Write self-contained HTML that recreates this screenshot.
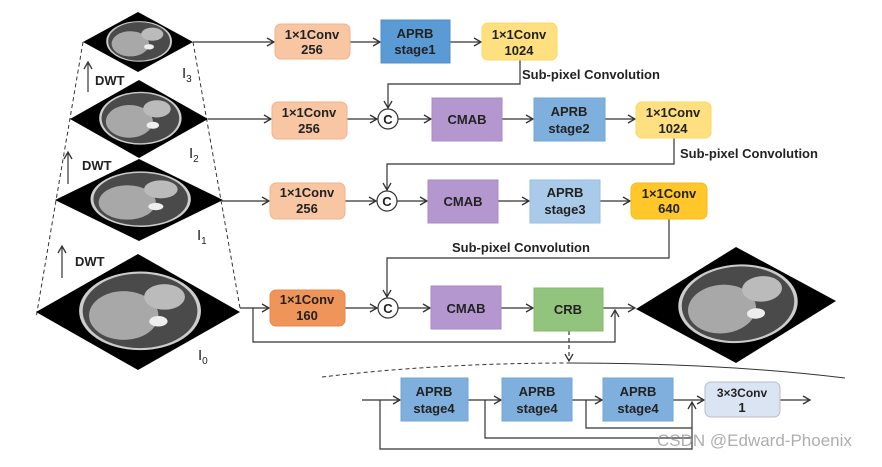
<!DOCTYPE html>
<html><head><meta charset="utf-8"><style>
body{margin:0;background:#fff}
svg text{font-family:"Liberation Sans",Arial,sans-serif;fill:#222}
</style></head><body>
<svg width="882" height="462" viewBox="0 0 882 462" xmlns="http://www.w3.org/2000/svg">
<defs>
<marker id="a" markerWidth="10" markerHeight="10" refX="8" refY="5" orient="auto" markerUnits="userSpaceOnUse">
<path d="M1,1 L8,5 L1,9" fill="none" stroke="#333" stroke-width="1.3"/></marker>
<g id="ct">
<polygon points="0,-1 1,0 0,1 -1,0" fill="#000"/>
<ellipse cx="0.02" cy="-0.02" rx="0.58" ry="0.66" fill="#4a4a4a" stroke="#ccc" stroke-width="0.035"/>
<ellipse cx="-0.14" cy="0.06" rx="0.34" ry="0.42" fill="#a8a8a8"/>
<ellipse cx="0.26" cy="-0.26" rx="0.2" ry="0.22" fill="#bbb"/>
<ellipse cx="0.2" cy="0.16" rx="0.09" ry="0.09" fill="#eee"/>
</g>
</defs>
<line x1="83" y1="42" x2="36" y2="318" stroke="#333" stroke-dasharray="4,3"/>
<line x1="193" y1="42" x2="240" y2="308" stroke="#333" stroke-dasharray="4,3"/>
<g transform="translate(138,42) scale(55,30)"><use href="#ct"/></g>
<g transform="translate(139,119) scale(69,39)"><use href="#ct"/></g>
<g transform="translate(139,200) scale(84,41)"><use href="#ct"/></g>
<g transform="translate(138,312) scale(102,58)"><use href="#ct"/></g>
<g transform="translate(736,305) scale(100,58) skewY(-4)"><use href="#ct"/></g>
<g stroke="#333" stroke-width="1.2" fill="none">
<line x1="88" y1="92" x2="88" y2="62" marker-end="url(#a)"/>
<line x1="68" y1="184" x2="68" y2="152" marker-end="url(#a)"/>
<line x1="62" y1="278" x2="62" y2="246" marker-end="url(#a)"/>
</g>
<g font-size="13" font-weight="bold">
<text x="95" y="85">DWT</text>
<text x="82" y="170">DWT</text>
<text x="75" y="266">DWT</text>
</g>
<g font-size="15"><text x="182" y="78">I<tspan font-size="10" dy="4">3</tspan></text>
<text x="189" y="158">I<tspan font-size="10" dy="4">2</tspan></text>
<text x="197" y="240">I<tspan font-size="10" dy="4">1</tspan></text>
<text x="198" y="360">I<tspan font-size="10" dy="4">0</tspan></text></g>
<g stroke="#333" stroke-width="1.2" fill="none">
<line x1="193" y1="42" x2="274" y2="42" marker-end="url(#a)"/>
<line x1="350" y1="42" x2="380" y2="42" marker-end="url(#a)"/>
<line x1="450" y1="42" x2="481" y2="42" marker-end="url(#a)"/>
<polyline points="520,60 520,84 388,84 388,108" marker-end="url(#a)"/>
<line x1="208" y1="119" x2="271" y2="119" marker-end="url(#a)"/>
<line x1="347" y1="119" x2="377" y2="119" marker-end="url(#a)"/>
<line x1="398" y1="119" x2="431" y2="119" marker-end="url(#a)"/>
<line x1="502" y1="119" x2="533" y2="119" marker-end="url(#a)"/>
<line x1="605" y1="119" x2="635" y2="119" marker-end="url(#a)"/>
<polyline points="674,138 674,164 387,164 387,190" marker-end="url(#a)"/>
<line x1="222" y1="201" x2="269" y2="201" marker-end="url(#a)"/>
<line x1="345" y1="201" x2="376" y2="201" marker-end="url(#a)"/>
<line x1="397" y1="201" x2="427" y2="201" marker-end="url(#a)"/>
<line x1="498" y1="201" x2="529" y2="201" marker-end="url(#a)"/>
<line x1="600" y1="201" x2="630" y2="201" marker-end="url(#a)"/>
<polyline points="669,219 669,258 387,258 387,297" marker-end="url(#a)"/>
<line x1="240" y1="308" x2="269" y2="308" marker-end="url(#a)"/>
<line x1="345" y1="308" x2="377" y2="308" marker-end="url(#a)"/>
<line x1="398" y1="308" x2="430" y2="308" marker-end="url(#a)"/>
<line x1="501" y1="308" x2="533" y2="308" marker-end="url(#a)"/>
<line x1="603" y1="308" x2="635" y2="308" marker-end="url(#a)"/>
<polyline points="253,308 253,342 615,342 615,310" marker-end="url(#a)"/>
<line x1="569" y1="331" x2="569" y2="361" stroke-dasharray="4,3" marker-end="url(#a)"/>
<path d="M322,377 Q440,363 570,363" stroke-dasharray="4,3" stroke-width="1"/>
<path d="M570,363 Q720,363 845,378" stroke-width="1"/>
<line x1="362" y1="400" x2="400" y2="400" marker-end="url(#a)"/>
<line x1="468" y1="400" x2="501" y2="400" marker-end="url(#a)"/>
<line x1="572" y1="400" x2="602" y2="400" marker-end="url(#a)"/>
<line x1="673" y1="400" x2="704" y2="400" marker-end="url(#a)"/>
<line x1="780" y1="400" x2="810" y2="400" marker-end="url(#a)"/>
<polyline points="380,400 380,449 692,449 692,402" marker-end="url(#a)"/>
<polyline points="485,400 485,438 692,438"/>
<polyline points="586,400 586,428 692,428"/>
<circle cx="388" cy="119" r="10" fill="#fff"/>
<circle cx="387" cy="201" r="10" fill="#fff"/>
<circle cx="388" cy="308" r="10" fill="#fff"/>
</g>
<g font-size="13" font-weight="bold" text-anchor="middle">
<text x="388" y="124">C</text><text x="387" y="206">C</text><text x="388" y="313">C</text>
</g>
<g font-size="13" font-weight="bold">
<text x="522" y="79">Sub-pixel Convolution</text>
<text x="680" y="158">Sub-pixel Convolution</text>
<text x="452" y="252">Sub-pixel Convolution</text>
</g>
<g stroke-width="1">
<rect x="275" y="24" width="75" height="35" rx="6" fill="#f8c6a3" stroke="#f0b48a"/>
<rect x="381" y="20" width="69" height="43" fill="#5b9bd5" stroke="#4f8fc9"/>
<rect x="482" y="23" width="75" height="37" rx="6" fill="#ffe080" stroke="#ffd760"/>
<rect x="272" y="102" width="75" height="37" rx="6" fill="#f8c6a3" stroke="#f0b48a"/>
<rect x="432" y="98" width="70" height="43" fill="#b597cf" stroke="#a888c8"/>
<rect x="534" y="98" width="71" height="43" fill="#7fb0dd" stroke="#70a4d6"/>
<rect x="636" y="102" width="75" height="36" rx="6" fill="#ffe080" stroke="#ffd760"/>
<rect x="270" y="183" width="75" height="36" rx="6" fill="#f8c6a3" stroke="#f0b48a"/>
<rect x="428" y="180" width="70" height="43" fill="#b597cf" stroke="#a888c8"/>
<rect x="530" y="180" width="70" height="43" fill="#a9cbe9" stroke="#98bfe4"/>
<rect x="631" y="183" width="76" height="36" rx="6" fill="#ffc729" stroke="#f5bb20"/>
<rect x="270" y="290" width="75" height="36" rx="6" fill="#f0955a" stroke="#e8884c"/>
<rect x="431" y="286" width="70" height="43" fill="#b597cf" stroke="#a888c8"/>
<rect x="534" y="288" width="69" height="43" fill="#93c47d" stroke="#84b86e"/>
<rect x="401" y="378" width="67" height="43" fill="#7fb0dd" stroke="#70a4d6"/>
<rect x="502" y="378" width="70" height="43" fill="#7fb0dd" stroke="#70a4d6"/>
<rect x="603" y="378" width="70" height="43" fill="#7fb0dd" stroke="#70a4d6"/>
<rect x="705" y="382" width="75" height="35" rx="6" fill="#dbe4f3" stroke="#b8bcc4"/>
</g>
<g font-size="13" text-anchor="middle" font-weight="bold" style="font-weight:600">
<text x="312" y="39">1×1Conv</text><text x="312" y="54">256</text>
<text x="415" y="38">APRB</text><text x="415" y="54">stage1</text>
<text x="519" y="39">1×1Conv</text><text x="519" y="55">1024</text>
<text x="309" y="117">1×1Conv</text><text x="309" y="133">256</text>
<text x="467" y="124">CMAB</text>
<text x="569" y="116">APRB</text><text x="569" y="133">stage2</text>
<text x="673" y="117">1×1Conv</text><text x="673" y="133">1024</text>
<text x="307" y="197">1×1Conv</text><text x="307" y="213">256</text>
<text x="463" y="206">CMAB</text>
<text x="565" y="197">APRB</text><text x="565" y="214">stage3</text>
<text x="669" y="198">1×1Conv</text><text x="669" y="213">640</text>
<text x="307" y="304">1×1Conv</text><text x="307" y="320">160</text>
<text x="466" y="313">CMAB</text>
<text x="568" y="314">CRB</text>
<text x="434" y="396">APRB</text><text x="434" y="413">stage4</text>
<text x="537" y="396">APRB</text><text x="537" y="413">stage4</text>
<text x="638" y="396">APRB</text><text x="638" y="413">stage4</text>
<text x="742" y="397" font-size="12">3×3Conv</text><text x="742" y="412">1</text>
</g>
<text x="657" y="446" font-size="17" style="fill:#999;opacity:0.8">CSDN @Edward-Phoenix</text>
</svg>
</body></html>
